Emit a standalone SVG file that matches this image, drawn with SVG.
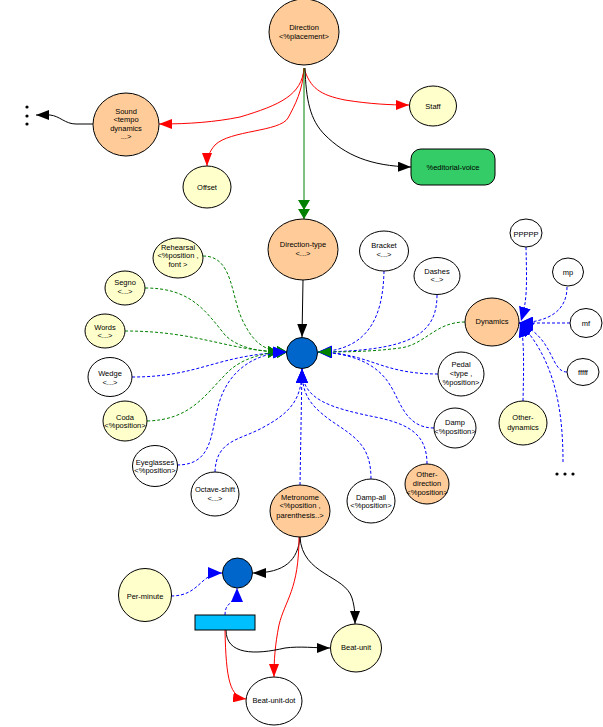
<svg xmlns="http://www.w3.org/2000/svg" width="603" height="727" viewBox="0 0 603 727">
<style>
.n{stroke:#000;stroke-width:1}
.pe{fill:#FFCC99}.ye{fill:#FFFFCC}.wh{fill:#FFFFFF}.bl{fill:#0066CC}
text{font-family:"Liberation Sans",Arial,sans-serif;font-size:7.5px;fill:#000;text-anchor:middle}
.e{fill:none;stroke-width:1}
.k{stroke:#000}.r{stroke:#FF0000}.g{stroke:#008000}.u{stroke:#0000FF}
.d{stroke-dasharray:3,2}
</style>
<defs>
<marker id="mk" viewBox="0 0 13 10" refX="13" refY="5" markerWidth="13" markerHeight="10" markerUnits="userSpaceOnUse" orient="auto"><path d="M0,0 L13,5 L0,10 z" fill="#000"/></marker>
<marker id="mr" viewBox="0 0 13 10" refX="13" refY="5" markerWidth="13" markerHeight="10" markerUnits="userSpaceOnUse" orient="auto"><path d="M0,0 L13,5 L0,10 z" fill="#FF0000"/></marker>
<marker id="mg" viewBox="0 0 13 10" refX="13" refY="5" markerWidth="13" markerHeight="10" markerUnits="userSpaceOnUse" orient="auto"><path d="M0,0 L13,5 L0,10 z" fill="#008000"/></marker>
<marker id="mu" viewBox="0 0 14 12" refX="14" refY="6" markerWidth="14" markerHeight="12" markerUnits="userSpaceOnUse" orient="auto"><path d="M0,0 L14,6 L0,12 z" fill="#0000FF"/></marker>
<marker id="mgg" viewBox="0 0 19 12" refX="19" refY="6" markerWidth="19" markerHeight="12" markerUnits="userSpaceOnUse" orient="auto"><path d="M0,0 L10,6 L0,12 z M9,0 L19,6 L9,12 z" fill="#008000"/></marker>
</defs>
<g id="edges">
<path class="e r" d="M304,68 C302,95 280,105 240,117 C215,122 190,124 159,124" marker-end="url(#mr)"/>
<path class="e r" d="M304,68 C303,90 295,105 288,118 C280,132 230,130 215,145 C209,152 207,158 207,166" marker-end="url(#mr)"/>
<path class="e r" d="M304,68 C310,88 320,95 345,100 C370,104 390,105 409,105" marker-end="url(#mr)"/>
<path class="e k" d="M305,68 C306,100 310,120 325,135 C345,155 370,166 411,167" marker-end="url(#mk)"/>
<path class="e g" d="M304,68 L304,219" marker-end="url(#mgg)"/>
<path class="e k" d="M93,124 L76,124 C65,124 60,116 50,115 L36,115" marker-end="url(#mk)"/>
<path class="e k" d="M303,280 L302,337" marker-end="url(#mk)"/>
<path class="e g d" d="M203,256 C235,256 230,300 245,325 C255,345 268,352 287,352" marker-end="url(#mgg)"/>
<path class="e g d" d="M145,288 C190,288 205,310 225,335 C240,350 265,352 287,352" marker-end="url(#mgg)"/>
<path class="e g d" d="M125,331 C200,331 230,352 287,352" marker-end="url(#mgg)"/>
<path class="e u d" d="M132,377 C200,377 215,355 287,352" marker-end="url(#mu)"/>
<path class="e g d" d="M147,421 C190,420 205,395 225,375 C240,358 265,352 287,352" marker-end="url(#mgg)"/>
<path class="e u d" d="M177,465 C215,465 210,430 220,400 C230,370 255,353 287,352" marker-end="url(#mu)"/>
<path class="e u d" d="M215,472 C216,440 240,440 262,428 C290,413 302,400 302,369" marker-end="url(#mu)"/>
<path class="e u d" d="M300,485 L302,369" marker-end="url(#mu)"/>
<path class="e u d" d="M371,479 C371,445 355,437 330,420 C310,405 302,395 302,369" marker-end="url(#mu)"/>
<path class="e u d" d="M427,464 C427,435 410,425 380,418 C330,408 302,400 302,369" marker-end="url(#mu)"/>
<path class="e u d" d="M384,271 C383,315 370,350 318,352" marker-end="url(#mu)"/>
<path class="e u d" d="M437,295 C437,335 410,351 318,352" marker-end="url(#mu)"/>
<path class="e u d" d="M438,374 C380,374 370,353 318,352" marker-end="url(#mu)"/>
<path class="e u d" d="M434,428 C405,428 400,400 390,385 C375,360 345,353 318,352" marker-end="url(#mu)"/>
<path class="e g d" d="M465,322 C435,322 425,345 400,348 C370,352 340,352 318,352" marker-end="url(#mg)"/>
<path class="e u d" d="M526,247 C527,290 527,300 521,321" marker-end="url(#mu)"/>
<path class="e u d" d="M567,287 C567,310 550,322 519,323" marker-end="url(#mu)"/>
<path class="e u d" d="M570,323 L519,323" marker-end="url(#mu)"/>
<path class="e u d" d="M567,372 C550,372 555,338 519,323" marker-end="url(#mu)"/>
<path class="e u d" d="M523,401 C524,360 524,335 520,323" marker-end="url(#mu)"/>
<path class="e u d" d="M563,462 C563,410 555,360 520,323" marker-end="url(#mu)"/>
<path class="e k" d="M300,537 C298,560 285,573 253,573" marker-end="url(#mk)"/>
<path class="e r" d="M299,537 C299,590 285,600 279,625 C275,645 274,660 274,677" marker-end="url(#mr)"/>
<path class="e k" d="M300,537 C302,575 345,575 352,598 C355,608 355,615 355,624" marker-end="url(#mk)"/>
<path class="e u d" d="M171,596 C200,596 200,573 222,573" marker-end="url(#mu)"/>
<path class="e u d" d="M225,615 C225,600 237,605 237,588" marker-end="url(#mu)"/>
<path class="e k" d="M226,630 C226,655 255,655 285,648 C300,646 315,648 330,648" marker-end="url(#mk)"/>
<path class="e r" d="M225,630 C226,680 230,697 246,699" marker-end="url(#mr)"/>
</g>
<g id="direction"><ellipse class="n pe" cx="304" cy="32" rx="35" ry="33"/><text x="304" y="29.5">Direction</text><text x="304" y="38.5">&lt;%placement&gt;</text></g>
<g id="sound"><ellipse class="n pe" cx="126" cy="124.5" rx="33" ry="31.5"/><text x="126" y="113.5">Sound</text><text x="126" y="122">&lt;tempo</text><text x="126" y="130.5">dynamics</text><text x="126" y="139">...&gt;</text></g>
<g id="dots-left"><circle cx="27" cy="107" r="1.6"/><circle cx="27" cy="116" r="1.6"/><circle cx="27" cy="124" r="1.6"/></g>
<g id="staff"><ellipse class="n ye" cx="433" cy="106" rx="23.5" ry="20"/><text x="433" y="108.5">Staff</text></g>
<g id="offset"><ellipse class="n ye" cx="207" cy="187" rx="24" ry="21"/><text x="207" y="189.5">Offset</text></g>
<g id="editorial-voice"><rect x="411" y="149" width="84" height="36" rx="10" ry="10" class="n" fill="#33CC66"/><text x="453" y="169.5">%editorial-voice</text></g>
<g id="direction-type"><ellipse class="n pe" cx="303" cy="249.5" rx="35" ry="30.5"/><text x="303" y="246.5">Direction-type</text><text x="303" y="255.5">&lt;...&gt;</text></g>
<g id="hub"><circle class="n bl" cx="302" cy="353" r="15.5"/></g>
<g id="rehearsal"><ellipse class="n ye" cx="178" cy="258" rx="25" ry="20"/><text x="178" y="249.5">Rehearsal</text><text x="178" y="257.5">&lt;%position ,</text><text x="178" y="266.5">font &gt;</text></g>
<g id="segno"><ellipse class="n ye" cx="125" cy="288" rx="20" ry="17"/><text x="125" y="284.5">Segno</text><text x="125" y="293.5">&lt;...&gt;</text></g>
<g id="words"><ellipse class="n ye" cx="105" cy="331" rx="20" ry="17"/><text x="105" y="329.5">Words</text><text x="105" y="337.5">&lt;...&gt;</text></g>
<g id="wedge"><ellipse class="n wh" cx="110" cy="377" rx="22" ry="19.5"/><text x="110" y="375.5">Wedge</text><text x="110" y="384.5">&lt;...&gt;</text></g>
<g id="coda"><ellipse class="n ye" cx="125" cy="421" rx="22" ry="20"/><text x="125" y="419.5">Coda</text><text x="125" y="427.5">&lt;%position&gt;</text></g>
<g id="eyeglasses"><ellipse class="n wh" cx="155" cy="466" rx="22.5" ry="20.5"/><text x="155" y="464.5">Eyeglasses</text><text x="155" y="472.5">&lt;%position&gt;</text></g>
<g id="octave-shift"><ellipse class="n wh" cx="215" cy="494" rx="24" ry="22"/><text x="215" y="491.5">Octave-shift</text><text x="215" y="500.5">&lt;...&gt;</text></g>
<g id="metronome"><ellipse class="n pe" cx="300" cy="511" rx="30" ry="26"/><text x="300" y="499.5">Metronome</text><text x="300" y="507.5">&lt;%position ,</text><text x="300" y="517.5">parenthesis..&gt;</text></g>
<g id="damp-all"><ellipse class="n wh" cx="371" cy="501" rx="24" ry="22"/><text x="371" y="499.5">Damp-all</text><text x="371" y="507.5">&lt;%position&gt;</text></g>
<g id="other-direction"><ellipse class="n pe" cx="427" cy="484" rx="22" ry="20"/><text x="427" y="476.5">Other-</text><text x="427" y="485.5">direction</text><text x="427" y="494.5">&lt;%position&gt;</text></g>
<g id="damp"><ellipse class="n wh" cx="455" cy="428" rx="21" ry="20"/><text x="455" y="424.5">Damp</text><text x="455" y="433.5">&lt;%position&gt;</text></g>
<g id="pedal"><ellipse class="n wh" cx="461" cy="374" rx="23" ry="22"/><text x="461" y="366.5">Pedal</text><text x="461" y="375.5">&lt;type ,</text><text x="461" y="384.5">%position&gt;</text></g>
<g id="dashes"><ellipse class="n wh" cx="437" cy="276" rx="23" ry="18.5"/><text x="437" y="273.5">Dashes</text><text x="437" y="281.5">&lt;..&gt;</text></g>
<g id="bracket"><ellipse class="n wh" cx="384" cy="251" rx="24.5" ry="20"/><text x="384" y="247.5">Bracket</text><text x="384" y="256.5">&lt;...&gt;</text></g>
<g id="dynamics"><ellipse class="n pe" cx="492" cy="322" rx="27" ry="24"/><text x="492" y="324">Dynamics</text></g>
<g id="ppppp"><ellipse class="n wh" cx="526" cy="233" rx="16" ry="14"/><text x="526" y="236.5">PPPPP</text></g>
<g id="mp"><ellipse class="n wh" cx="568" cy="272" rx="15.5" ry="14"/><text x="568" y="274.5">mp</text></g>
<g id="mf"><ellipse class="n wh" cx="586" cy="323" rx="16" ry="14.5"/><text x="586" y="325.5">mf</text></g>
<g id="fffff"><ellipse class="n wh" cx="583" cy="372" rx="16" ry="13.5"/><text x="583" y="375">fffff</text></g>
<g id="other-dynamics"><ellipse class="n ye" cx="523" cy="423" rx="24" ry="22"/><text x="523" y="419.5">Other-</text><text x="523" y="429.5">dynamics</text></g>
<g id="dots-right"><circle cx="557" cy="474" r="1.6"/><circle cx="565" cy="474" r="1.6"/><circle cx="573" cy="474" r="1.6"/></g>
<g id="per-minute"><ellipse class="n ye" cx="145" cy="595" rx="26.5" ry="26.5"/><text x="145" y="598.5">Per-minute</text></g>
<g id="hub2"><circle class="n bl" cx="237.5" cy="573" r="15"/></g>
<g id="group-rect"><rect x="195" y="615" width="60" height="15" class="n" fill="#00BFFF"/></g>
<g id="beat-unit"><ellipse class="n ye" cx="356" cy="648" rx="25.5" ry="24"/><text x="356" y="650">Beat-unit</text></g>
<g id="beat-unit-dot"><ellipse class="n wh" cx="274" cy="701" rx="28" ry="24"/><text x="274" y="703">Beat-unit-dot</text></g>
</svg>
